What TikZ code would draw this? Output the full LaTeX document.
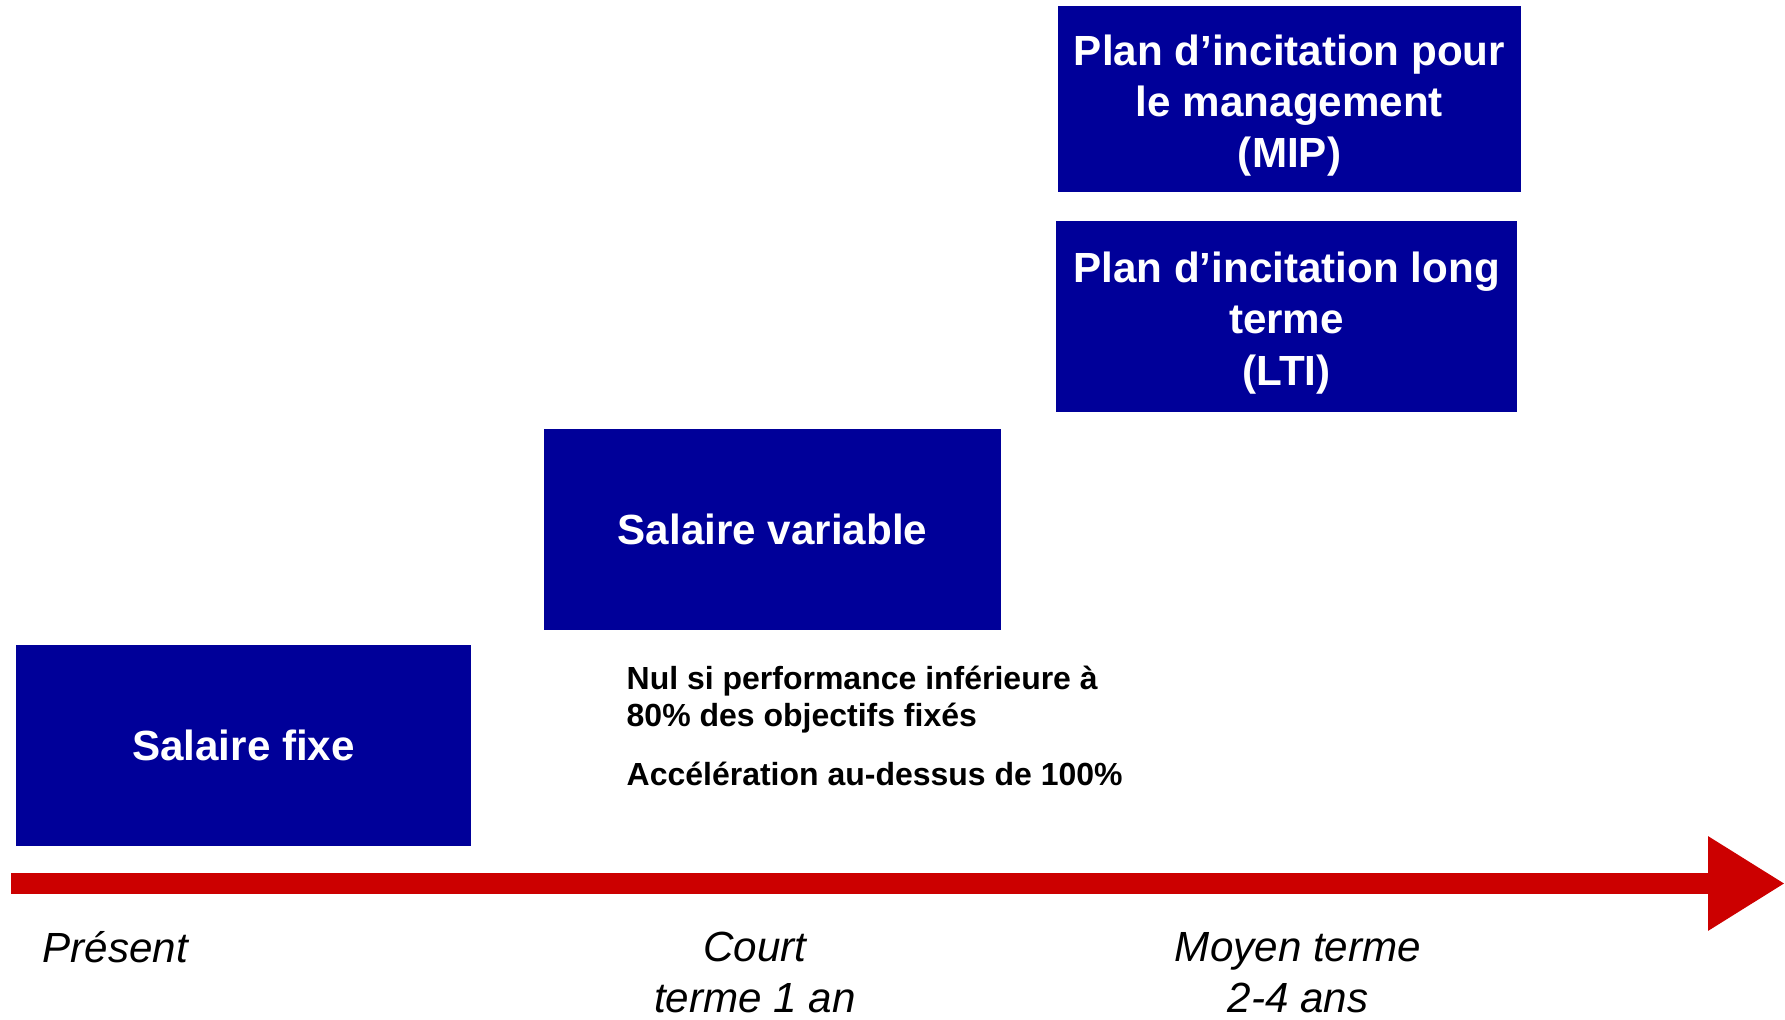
\documentclass[tikz,border=0pt]{standalone}
\usepackage{fontspec}
\setmainfont{Liberation Sans}
\usetikzlibrary{arrows.meta}
\definecolor{planblue}{RGB}{0,0,153}
\definecolor{axisred}{RGB}{204,0,0}
\newcommand{\hautligne}{\rule{0pt}{12.4pt}}

\begin{document}
\begin{tikzpicture}[
        planbox/.style={fill=planblue,text=white,align=center,inner sep=0pt,font=\fontsize{12}{14.6}\selectfont\bfseries},
        periode/.style={align=center,inner sep=0pt,font=\fontsize{12}{14.4}\selectfont\itshape},
        remarque/.style={align=left,inner sep=0pt,font=\fontsize{9.1}{10.7}\selectfont\bfseries}]
            \useasboundingbox (0, 0) rectangle (17.85, 10.19);

            \node[planbox,minimum width=4.55cm,minimum height=2.01cm] (F) at (2.435, 2.735) {Salaire fixe};
            \node[planbox,minimum width=4.57cm,minimum height=2.01cm] (V) at (7.725, 4.895) {Salaire variable};
            \node[planbox,minimum width=4.61cm,minimum height=1.91cm] (L) at (12.865, 7.025) {\hautligne Plan d’incitation long\\terme\\(LTI)};
            \node[planbox,minimum width=4.63cm,minimum height=1.86cm] (M) at (12.895, 9.20) {\hautligne Plan d’incitation pour\\le management\\(MIP)};

            \node[remarque,anchor=base west] (N) at (6.26, 2.92) {Nul si performance inférieure à\\80\% des objectifs fixés};
            \node[remarque,anchor=base west] (A) at (6.26, 2.34) {Accélération au-dessus de 100\%};

            \coordinate (T0) at (0.11, 1.355);
            \coordinate (T1) at (17.85, 1.355);
            \draw[axisred,line width=2.1mm,-{Triangle[length=7.7mm,width=8.9mm]}] (T0) to (T1);

            \node[periode,anchor=base west] (P) at (0.42, 0.57) {Présent};
            \node[periode,anchor=base] (C) at (7.55, 0.065) {Court\\terme 1 an};
            \node[periode,anchor=base] (Mo) at (12.98, 0.065) {Moyen terme\\2-4 ans};
        \end{tikzpicture}
\end{document}
